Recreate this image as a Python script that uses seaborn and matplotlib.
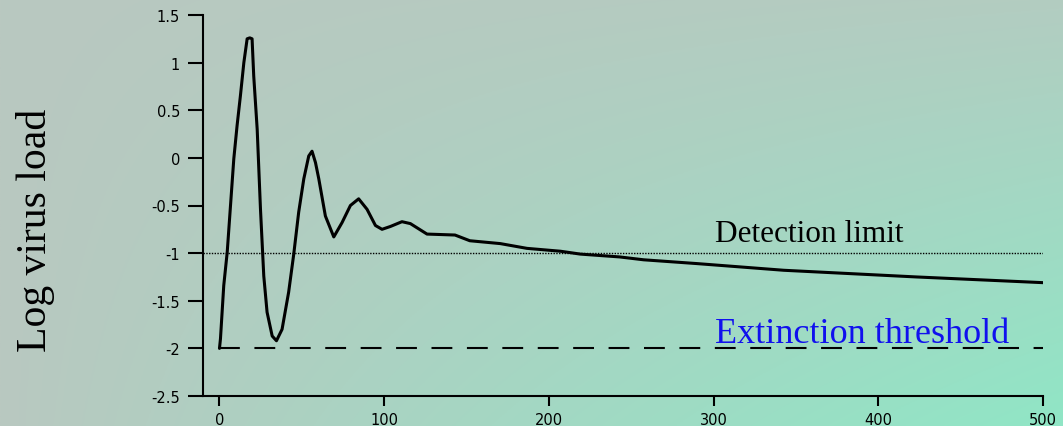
import numpy as np
import matplotlib
matplotlib.use("Agg")
import matplotlib.pyplot as plt
import seaborn as sns

# ---- data ----
time = [0, 0.6, 2.6, 4.7, 6.7, 8.7, 10.7, 12.7, 14.8, 16.8, 18.4, 19.8, 20.8, 22.9, 23.9,
        24.9, 26.9, 28.9, 32, 34.6, 38, 42, 45.1, 48.1, 51.2, 54.2, 56.2, 58.3, 60.3,
        64.3, 69.4, 74.4, 79.5, 84.5, 89.6, 94.7, 98.7, 103.8, 110.8, 115.9, 126, 143,
        152, 170.5, 186.7, 207, 219, 243, 257.5, 290, 342.6, 423, 500]
log_load = [-2.0, -1.9, -1.34, -0.99, -0.50, -0.01, 0.34, 0.65, 1.0, 1.25, 1.26, 1.25,
            0.86, 0.30, -0.12, -0.54, -1.24, -1.62, -1.87, -1.92, -1.80, -1.41, -1.01,
            -0.57, -0.22, 0.02, 0.07, -0.05, -0.22, -0.61, -0.83, -0.68, -0.50, -0.43,
            -0.54, -0.71, -0.75, -0.72, -0.67, -0.69, -0.80, -0.81, -0.87, -0.90, -0.95,
            -0.98, -1.01, -1.04, -1.07, -1.11, -1.18, -1.25, -1.31]
detection_limit = -1.0
extinction_threshold = -2.0
xticks = [0, 100, 200, 300, 400, 500]
yticks = [-2.5, -2, -1.5, -1, -0.5, 0, 0.5, 1, 1.5]
ytick_labels = ["-2.5", "-2", "-1.5", "-1", "-0.5", "0", "0.5", "1", "1.5"]

sns.set_style("ticks")
plt.rcParams["axes.unicode_minus"] = False
plt.rcParams["font.family"] = ["DejaVu Sans"]

W, H = 1063, 427
fig = plt.figure(figsize=(W / 100, H / 100), dpi=100)

# background gradient (grey on the left, green toward the bottom right)
bg = fig.add_axes([0, 0, 1, 1], zorder=-10)
xf = np.linspace(0, 1, 400)[None, :]
yb = np.linspace(0, 1, 200)[:, None]  # row 0 is the top; 1 at the bottom
t = np.clip(xf ** 0.9 * (0.15 + 0.85 * yb), 0, 1)
c0 = np.array([185, 200, 192]) / 255
c1 = np.array([144, 230, 198]) / 255
img = c0[None, None, :] * (1 - t[..., None]) + c1[None, None, :] * t[..., None]
bg.imshow(img, aspect="auto", extent=[0, 1, 0, 1], origin="upper")
bg.set_axis_off()

ax = fig.add_axes([203 / W, 1 - 397 / H, (1043 - 203) / W, (397 - 16) / H])
ax.set_facecolor("none")

sns.lineplot(x=time, y=log_load, ax=ax, color="black", lw=2.2, sort=False, estimator=None)
ax.plot([-10, 500], [detection_limit, detection_limit], color="black", lw=1.0,
        linestyle=(0, (1, 1)))
ax.plot([0, 500], [extinction_threshold, extinction_threshold], color="black", lw=1.5,
        linestyle=(0, (10, 7)))

ax.set_xlim(-10, 500)
ax.set_ylim(-2.5, 1.5)
ax.set_xticks(xticks)
ax.set_yticks(yticks)
ax.set_yticklabels(ytick_labels)
for s in ["top", "right"]:
    ax.spines[s].set_visible(False)
for s in ["left", "bottom"]:
    ax.spines[s].set_linewidth(1.5)
    ax.spines[s].set_color("black")
ax.tick_params(axis="y", length=10.5, width=1.5, pad=6, labelsize=10.5, colors="black")
ax.tick_params(axis="x", length=7.5, width=1.5, pad=4, labelsize=10.5, colors="black")
ax.set_xlabel("")
ax.set_ylabel("")

ax.text(-0.199, 0.438, "Log virus load", transform=ax.transAxes, rotation=90,
        ha="center", va="center", fontsize=30, family="Liberation Serif", color="black")
ax.text(301, -0.871, "Detection limit", ha="left", va="baseline", fontsize=22.5,
        family="Liberation Serif", color="black")
ax.text(301, -1.93, "Extinction threshold", ha="left", va="baseline", fontsize=26,
        family="Liberation Serif", color="#1010ee")

fig.savefig("out.png", dpi=100)
